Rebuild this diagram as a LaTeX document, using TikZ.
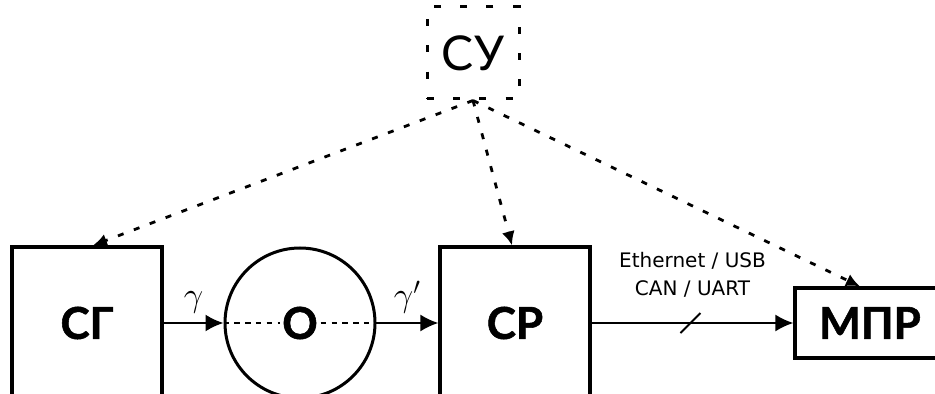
\documentclass[tikz,border=0pt]{standalone}
\usepackage{fontspec}
\setmainfont{Lato}
\newfontfamily\heavy{Lato}[BoldFeatures={FakeBold=1.2}]
\newfontfamily\smallsans{DejaVu Sans}
\usetikzlibrary{arrows.meta,positioning,calc}

\begin{document}
\begin{tikzpicture}[x=0.5pt,y=-0.5pt,
  blk/.style={draw,line width=1.6pt,minimum width=75pt,minimum height=76pt,inner sep=0pt,font=\heavy\fontsize{22}{24}\selectfont\bfseries},
  sig/.style={-{Latex[length=9pt,width=8.5pt]},line width=1pt},
  ctl/.style={-{Latex[length=7pt,width=6.5pt]},line width=1.4pt,dash pattern=on 3pt off 5.5pt},
  lbl/.style={font=\fontsize{17}{17}\selectfont}]
 \useasboundingbox (0,0) rectangle (935,394);
 \clip (0,0) rectangle (935,394);
 \node[draw,line width=1.5pt,dash pattern=on 3.5pt off 9.6pt,minimum size=46pt,font=\fontsize{24}{26}\selectfont] (su) at (473,53) {СУ};
 \node[blk] (sg) at (87,323) {СГ};
 \node[circle,draw,line width=1.5pt,minimum size=75pt] (obj) at (300,323) {};
 \draw[line width=1pt,dash pattern=on 2.7pt off 2.7pt] (obj.west) -- (obj.east);
 \node[fill=white,inner sep=1pt,font=\heavy\fontsize{22}{24}\selectfont\bfseries] (ol) at (obj) {О};
 \node[blk] (cr) at (515,323) {СР};
 \node[blk,minimum height=35pt] (mpr) at (870,323) {МПР};
 \draw[sig] (sg) -- node[above=1pt,lbl]{$\gamma$} (obj);
 \draw[sig] (obj) -- node[above=1pt,lbl]{$\gamma'$} (cr);
 \draw[sig] (cr) -- coordinate[pos=.49] (bus) node[above=9pt,align=center,font=\smallsans\fontsize{10}{14}\selectfont]{Ethernet / USB\\CAN / UART} (mpr);
 \draw[line width=1pt] ([shift={(-10,10)}]bus) -- ([shift={(10,-10)}]bus);
 \draw[ctl] (su.south) -- ([xshift=3pt]sg.north);
 \draw[ctl] (su.south) -- ([xshift=-1.5pt]cr.north);
 \draw[ctl] (su.south) -- ([xshift=-5pt]mpr.north);
\end{tikzpicture}
\end{document}
